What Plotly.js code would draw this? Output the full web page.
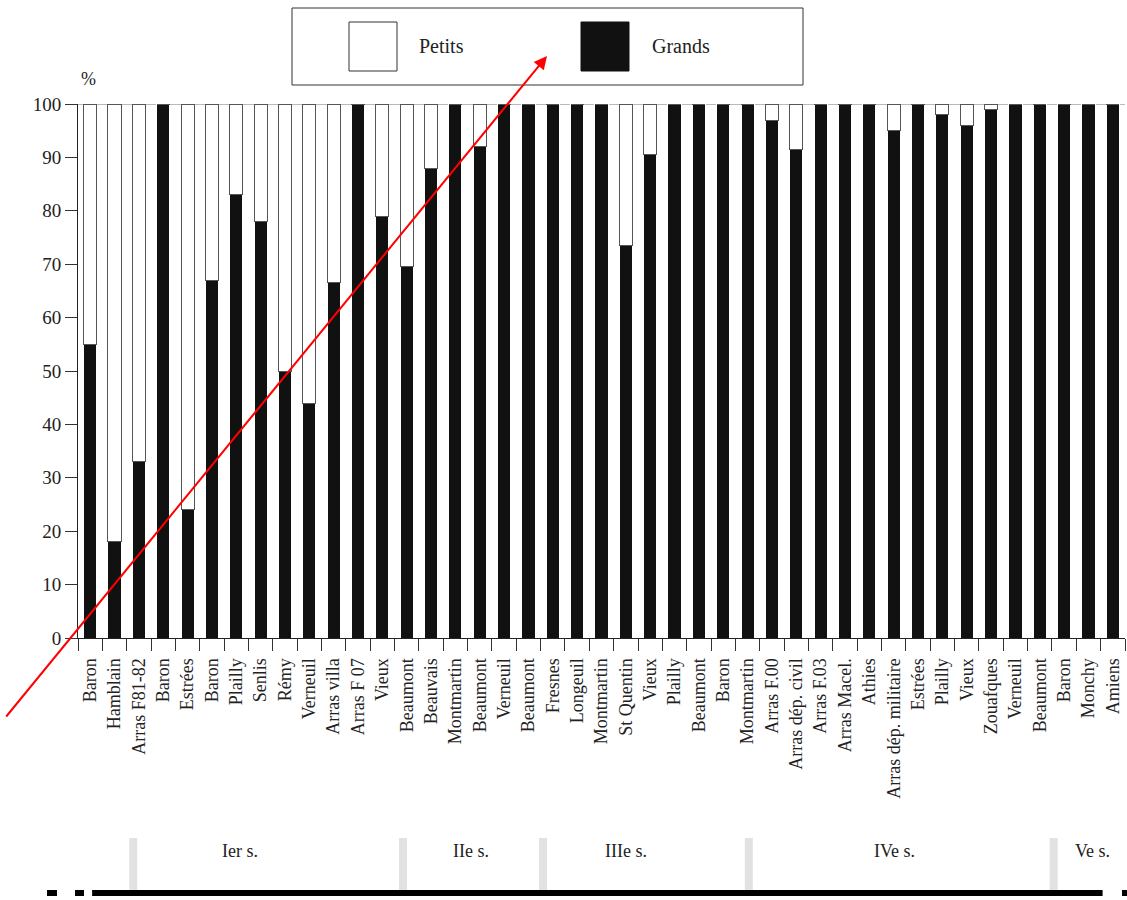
<!DOCTYPE html>
<html>
<head>
<meta charset="utf-8">
<script src="https://cdn.plot.ly/plotly-3.0.1.min.js"></script>
<style>html,body{margin:0;padding:0;background:#fff;}#chart{width:1127px;height:900px;}</style>
</head>
<body>
<div id="chart"></div>
<script>
// ---- Data ----
const sites = ["Baron","Hamblain","Arras F81-82","Baron","Estrées","Baron","Plailly","Senlis","Rémy","Verneuil",
  "Arras villa","Arras F 07","Vieux","Beaumont","Beauvais","Montmartin","Beaumont","Verneuil","Beaumont","Fresnes",
  "Longeuil","Montmartin","St Quentin","Vieux","Plailly","Beaumont","Baron","Montmartin","Arras F.00","Arras dép. civil",
  "Arras F.03","Arras Macel.","Athies","Arras dép. militaire","Estrées","Plailly","Vieux","Zouafques","Verneuil","Beaumont",
  "Baron","Monchy","Amiens"];
const grands = [55,18,33,100,24,67,83,78,50,44,
  66.5,100,79,69.5,88,100,92,100,100,100,
  100,100,73.5,90.5,100,100,100,100,97,91.5,
  100,100,100,95,100,98,96,99,100,100,
  100,100,100];
const petits = [45,82,67,0,76,33,17,22,50,56,
  33.5,0,21,30.5,12,0,8,0,0,0,
  0,0,26.5,9.5,0,0,0,0,3,8.5,
  0,0,0,5,0,2,4,1,0,0,
  0,0,0];
const yTicks = [0,10,20,30,40,50,60,70,80,90,100];
const periodLabels = ["Ier s.","IIe s.","IIIe s.","IVe s.","Ve s."];
const periodCenters = [6.16,15.64,22.0,33.05,41.17];
const periodBreaks = [1.77,12.85,18.6,27.05,39.57];
const timelineSpan = [0.08,41.58];

// ---- Build ----
const idx = sites.map((_, i) => i);
const boundaries = sites.map((_, i) => i - 0.5).concat([sites.length - 0.5]);
const FONT = "Liberation Serif, Times New Roman, serif";

const traces = [
  {type:"bar", x:idx, y:grands, name:"Grands", width:0.54,
   marker:{color:"#111", line:{color:"#fff", width:1}}, hoverinfo:"skip"},
  {type:"bar", x:idx, y:petits, name:"Petits", width:0.54,
   marker:{color:"#fff", line:{color:"#555", width:1}}, hoverinfo:"skip"},
  {type:"scatter", x:[boundaries[0]], y:[0], xaxis:"x2", mode:"markers",
   marker:{opacity:0}, showlegend:false, hoverinfo:"skip"}
];

// pixel helpers for decorative (non-data) elements
const L = 78, R = 2, T = 104, B = 262, W = 1127, H = 900;
const pw = W - L - R, ph = H - T - B;
const px = p => (p - L) / pw;
const py = p => (H - B - p) / ph;

const shapes = [
  {type:"line", xref:"paper", yref:"y", x0:0, x1:1, y0:100, y1:100, line:{color:"#777", width:1}, layer:"below"},
  // legend box
  {type:"rect", xref:"paper", yref:"paper", x0:px(292), x1:px(803), y0:py(85), y1:py(8), line:{color:"#333", width:1}, fillcolor:"rgba(0,0,0,0)"},
  {type:"rect", xref:"paper", yref:"paper", x0:px(349), x1:px(397), y0:py(71), y1:py(22), line:{color:"#333", width:1}, fillcolor:"#fff"},
  {type:"rect", xref:"paper", yref:"paper", x0:px(581), x1:px(629), y0:py(71), y1:py(22), line:{color:"#111", width:1}, fillcolor:"#111"},
  // timeline
  {type:"line", xref:"x", yref:"paper", x0:timelineSpan[0], x1:timelineSpan[1], y0:py(893), y1:py(893), line:{color:"#000", width:6}},
  {type:"line", xref:"paper", yref:"paper", x0:px(47), x1:px(57), y0:py(893), y1:py(893), line:{color:"#000", width:6}},
  {type:"line", xref:"paper", yref:"paper", x0:px(75), x1:px(84), y0:py(893), y1:py(893), line:{color:"#000", width:6}},
  {type:"line", xref:"paper", yref:"paper", x0:px(1122), x1:px(1130), y0:py(893), y1:py(893), line:{color:"#000", width:6}}
];
periodBreaks.forEach(b => shapes.push({type:"line", xref:"x", yref:"paper", x0:b, x1:b, y0:py(838), y1:py(890),
  line:{color:"#e2e2e2", width:8}, layer:"below"}));

const annotations = [
  {text:"%", xref:"paper", yref:"paper", x:px(88), y:py(79), xanchor:"center", yanchor:"middle", showarrow:false, font:{family:FONT, size:18, color:"#222"}},
  {text:"Petits", xref:"paper", yref:"paper", x:px(417), y:py(46), xanchor:"left", yanchor:"middle", showarrow:false, font:{family:FONT, size:20, color:"#222"}},
  {text:"Grands", xref:"paper", yref:"paper", x:px(650), y:py(46), xanchor:"left", yanchor:"middle", showarrow:false, font:{family:FONT, size:20, color:"#222"}},
  {text:"", xref:"paper", yref:"paper", x:px(547), y:py(56), showarrow:true, ax:5-547, ay:718-56,
   arrowhead:2, arrowsize:1.3, arrowwidth:2, arrowcolor:"#ff0000", standoff:0}
];
periodLabels.forEach((t, i) => annotations.push({text:t, xref:"x", yref:"paper", x:periodCenters[i], y:py(851),
  xanchor:"center", yanchor:"middle", showarrow:false, font:{family:FONT, size:18, color:"#222"}}));

const layout = {
  width:W, height:H, margin:{l:L, r:R, t:T, b:B},
  barmode:"stack", showlegend:false,
  paper_bgcolor:"#fff", plot_bgcolor:"#fff",
  font:{family:FONT, color:"#222"},
  xaxis:{range:[-0.5, sites.length - 0.5], tickmode:"array", tickvals:idx, ticktext:sites,
    tickangle:-90, ticks:"", ticklabelstandoff:12, showgrid:false, zeroline:false,
    showline:true, linecolor:"#222", linewidth:1, tickfont:{family:FONT, size:18, color:"#222"}, fixedrange:true},
  xaxis2:{overlaying:"x", anchor:"y", side:"bottom", range:[-0.5, sites.length - 0.5],
    tickmode:"array", tickvals:boundaries, ticks:"outside", ticklen:12, tickcolor:"#333",
    showticklabels:false, showgrid:false, zeroline:false, showline:false},
  yaxis:{range:[0,100], tickmode:"array", tickvals:yTicks, ticks:"outside", ticklen:12, tickcolor:"#333",
    showline:true, linecolor:"#222", linewidth:1, showgrid:false, zeroline:false,
    tickfont:{family:FONT, size:19, color:"#222"}, fixedrange:true},
  shapes:shapes, annotations:annotations
};

Plotly.newPlot("chart", traces, layout, {displayModeBar:false, staticPlot:true});
</script>
</body>
</html>
